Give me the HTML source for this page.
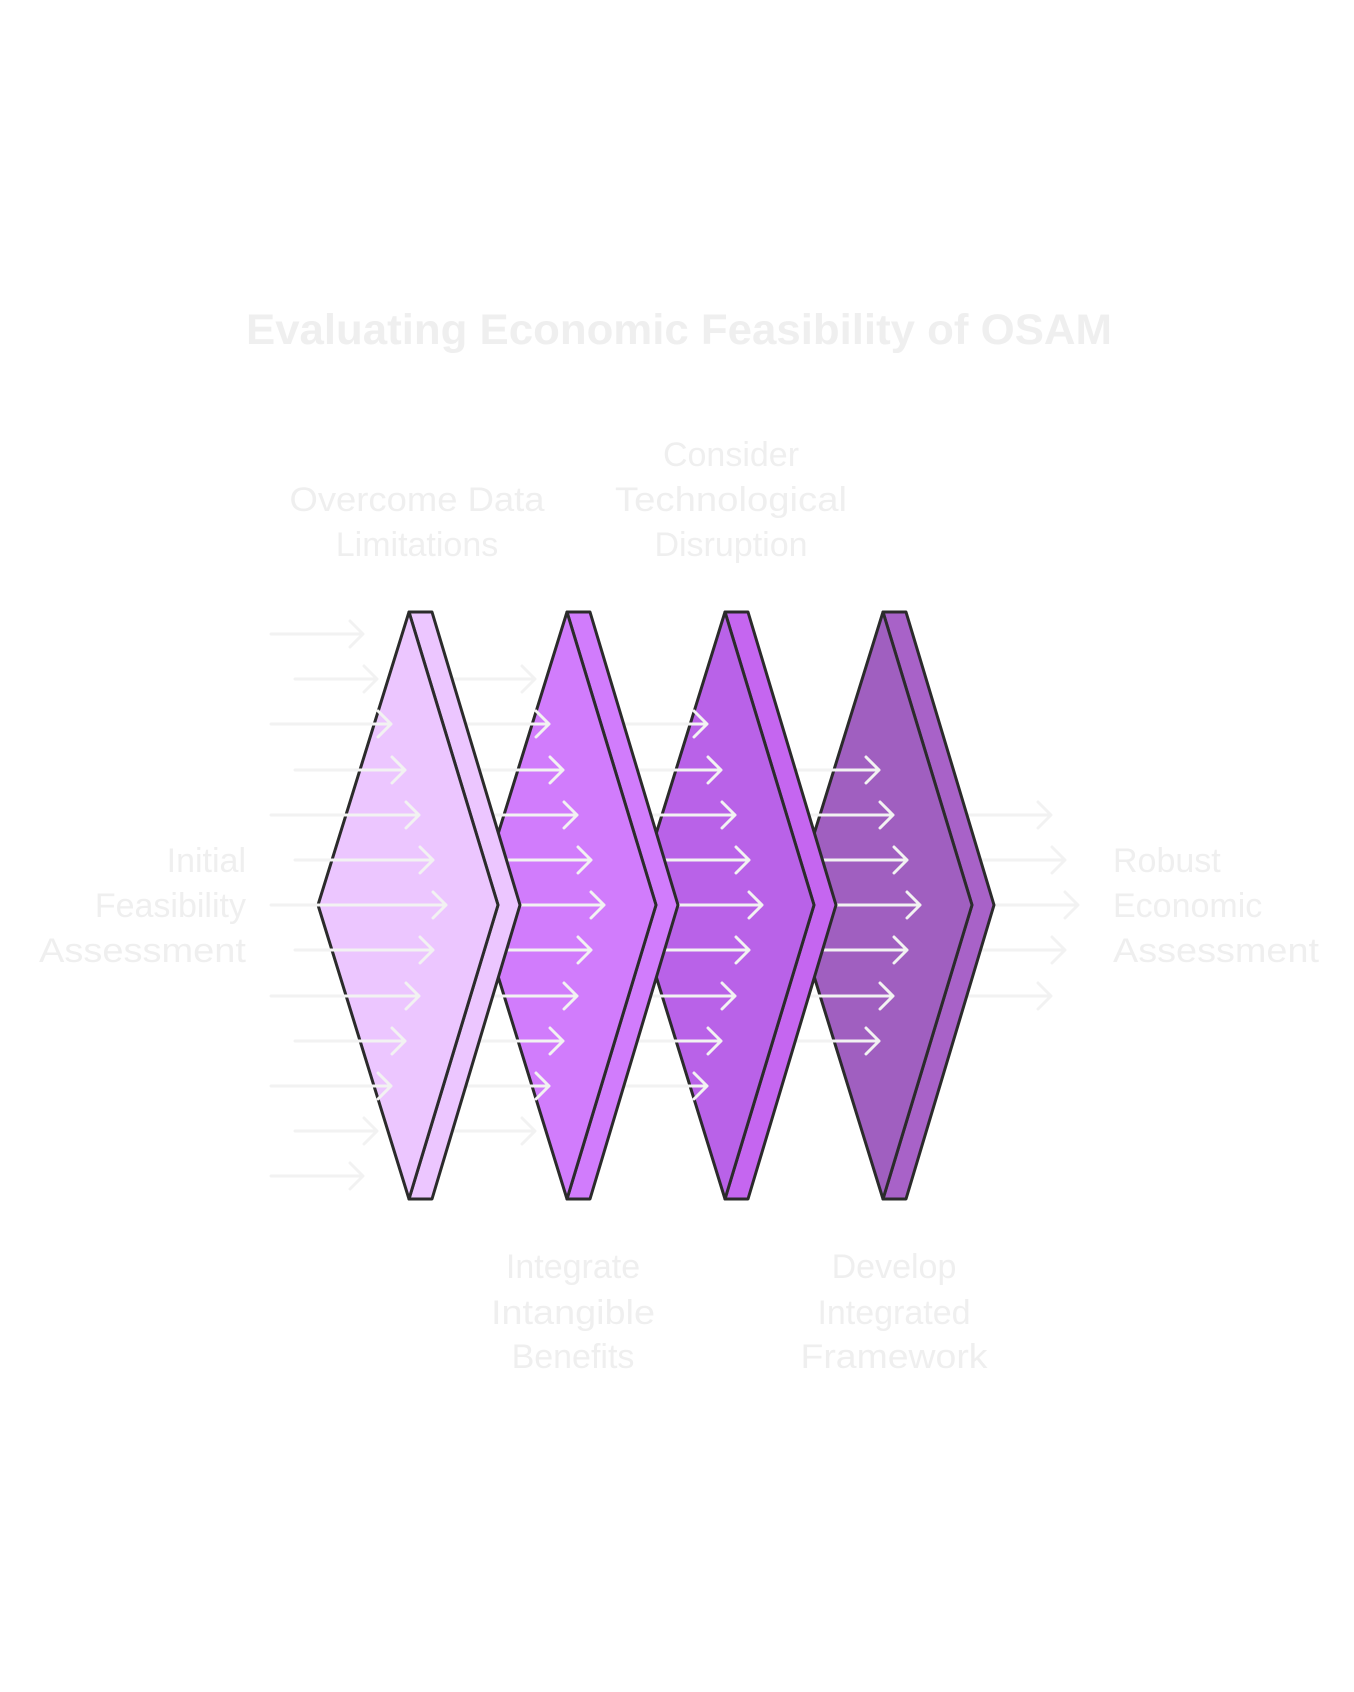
<!DOCTYPE html>
<html><head><meta charset="utf-8"><style>
html,body{margin:0;padding:0;background:#fff;}
svg{display:block;}
text{font-family:"Liberation Sans",sans-serif;fill:#efefef;}
</style></head><body>
<svg width="1354" height="1692" viewBox="0 0 1354 1692" xmlns="http://www.w3.org/2000/svg">
<text x="679" y="344" text-anchor="middle" font-size="43" font-weight="bold" textLength="866" lengthAdjust="spacingAndGlyphs">Evaluating Economic Feasibility of OSAM</text>
<g font-size="34">
<text x="417" y="511" text-anchor="middle" textLength="255" lengthAdjust="spacingAndGlyphs">Overcome Data</text>
<text x="417" y="556" text-anchor="middle">Limitations</text>
<text x="731" y="466" text-anchor="middle">Consider</text>
<text x="731" y="511" text-anchor="middle" textLength="232" lengthAdjust="spacingAndGlyphs">Technological</text>
<text x="731" y="556" text-anchor="middle">Disruption</text>
<text x="573" y="1278" text-anchor="middle">Integrate</text>
<text x="573" y="1324" text-anchor="middle" textLength="164" lengthAdjust="spacingAndGlyphs">Intangible</text>
<text x="573" y="1368" text-anchor="middle">Benefits</text>
<text x="894" y="1278" text-anchor="middle">Develop</text>
<text x="894" y="1324" text-anchor="middle">Integrated</text>
<text x="894" y="1368" text-anchor="middle" textLength="187" lengthAdjust="spacingAndGlyphs">Framework</text>
<text x="246" y="872" text-anchor="end">Initial</text>
<text x="246" y="917" text-anchor="end">Feasibility</text>
<text x="246" y="962" text-anchor="end" textLength="207" lengthAdjust="spacingAndGlyphs">Assessment</text>
<text x="1113" y="872">Robust</text>
<text x="1113" y="917">Economic</text>
<text x="1113" y="962" textLength="206" lengthAdjust="spacingAndGlyphs">Assessment</text>
</g>
<g fill="none" stroke="#f2f2f2" stroke-width="3" stroke-linecap="round" stroke-linejoin="round">
<!-- col5 -->
<path d="M903 815H1051M1038 802L1051 815L1038 828 M927 860H1065M1052 847L1065 860L1052 873 M903 905H1078M1065 892L1078 905L1065 918 M927 950H1065M1052 937L1065 950L1052 963 M903 996H1051M1038 983L1051 996L1038 1009"/>
</g>
<g stroke="#2b2b2b" stroke-width="3" stroke-linejoin="round">
<polygon points="883,612 906,612 994,905 906,1199 883,1199 972,905" fill="#a862c8"/>
<polygon points="883,612 972,905 883,1199 792,905" fill="#a05fc0"/>
</g>
<g fill="none" stroke="#f2f2f2" stroke-width="3" stroke-linecap="round" stroke-linejoin="round">
<path d="M769 770H879M866 757L879 770L866 783 M745 815H893M880 802L893 815L880 828 M769 860H907M894 847L907 860L894 873 M745 905H920M907 892L920 905L907 918 M769 950H907M894 937L907 950L894 963 M745 996H893M880 983L893 996L880 1009 M769 1041H879M866 1028L879 1041L866 1054"/>
</g>
<g stroke="#2b2b2b" stroke-width="3" stroke-linejoin="round">
<polygon points="725,612 748,612 836,905 748,1199 725,1199 814,905" fill="#c566f0"/>
<polygon points="725,612 814,905 725,1199 634,905" fill="#b962e8"/>
</g>
<g fill="none" stroke="#f2f2f2" stroke-width="3" stroke-linecap="round" stroke-linejoin="round">
<path d="M587 724H707M694 711L707 724L694 737 M611 770H721M708 757L721 770L708 783 M587 815H735M722 802L735 815L722 828 M611 860H749M736 847L749 860L736 873 M587 905H762M749 892L762 905L749 918 M611 950H749M736 937L749 950L736 963 M587 996H735M722 983L735 996L722 1009 M611 1041H721M708 1028L721 1041L708 1054 M587 1086H707M694 1073L707 1086L694 1099"/>
</g>
<g stroke="#2b2b2b" stroke-width="3" stroke-linejoin="round">
<polygon points="567,612 590,612 678,905 590,1199 567,1199 656,905" fill="#d17cfc"/>
<polygon points="567,612 656,905 567,1199 476,905" fill="#d17cfc"/>
</g>
<g fill="none" stroke="#f2f2f2" stroke-width="3" stroke-linecap="round" stroke-linejoin="round">
<path d="M453 679H535M522 666L535 679L522 692 M429 724H549M536 711L549 724L536 737 M453 770H563M550 757L563 770L550 783 M429 815H577M564 802L577 815L564 828 M453 860H591M578 847L591 860L578 873 M429 905H604M591 892L604 905L591 918 M453 950H591M578 937L591 950L578 963 M429 996H577M564 983L577 996L564 1009 M453 1041H563M550 1028L563 1041L550 1054 M429 1086H549M536 1073L549 1086L536 1099 M453 1131H535M522 1118L535 1131L522 1144"/>
</g>
<g stroke="#2b2b2b" stroke-width="3" stroke-linejoin="round">
<polygon points="409,612 432,612 520,905 432,1199 409,1199 498,905" fill="#ecc6ff"/>
<polygon points="409,612 498,905 409,1199 318,905" fill="#ecc6ff"/>
</g>
<g fill="none" stroke="#f2f2f2" stroke-width="3" stroke-linecap="round" stroke-linejoin="round">
<path d="M271 634H363M350 621L363 634L350 647 M295 679H377M364 666L377 679L364 692 M271 724H391M378 711L391 724L378 737 M295 770H405M392 757L405 770L392 783 M271 815H419M406 802L419 815L406 828 M295 860H433M420 847L433 860L420 873 M271 905H446M433 892L446 905L433 918 M295 950H433M420 937L433 950L420 963 M271 996H419M406 983L419 996L406 1009 M295 1041H405M392 1028L405 1041L392 1054 M271 1086H391M378 1073L391 1086L378 1099 M295 1131H377M364 1118L377 1131L364 1144 M271 1176H363M350 1163L363 1176L350 1189"/>
</g>
</svg>
</body></html>
